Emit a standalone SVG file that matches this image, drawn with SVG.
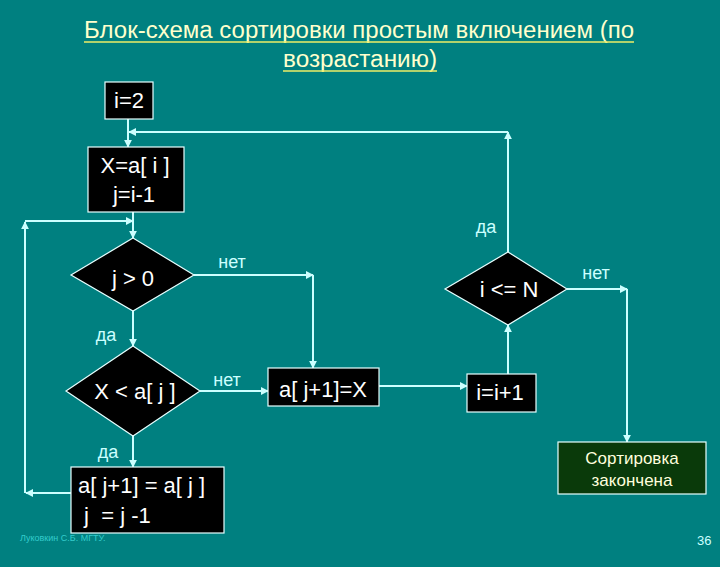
<svg xmlns="http://www.w3.org/2000/svg" width="720" height="567" viewBox="0 0 720 567">
<defs>
<marker id="ah" viewBox="0 0 10 10" refX="9" refY="5" markerWidth="8" markerHeight="8" markerUnits="userSpaceOnUse" orient="auto">
<path d="M0,0 L10,5 L0,10 z" fill="#CCFFFF"/>
</marker>
<style>
.bg{fill:#008080}
.box{fill:#000000;stroke:#E6FFFF;stroke-width:1.2}
.end{fill:#0A3A0A;stroke:#E6FFFF;stroke-width:1.2}
.t{font-family:"Liberation Sans",Arial,sans-serif;fill:#FFFFFF;font-size:22px}
.lbl{font-family:"Liberation Sans",Arial,sans-serif;fill:#CCFFFF;font-size:18px}
.title{font-family:"Liberation Sans",Arial,sans-serif;fill:#FFFFCC;font-size:23px;text-anchor:middle}
.c line,.c path{stroke:#CCFFFF;stroke-width:2;fill:none;marker-end:url(#ah)}
</style>
</defs>
<rect class="bg" x="0" y="0" width="720" height="567"/>
<g id="title">
<text class="title" x="359" y="38" textLength="550" lengthAdjust="spacingAndGlyphs">Блок-схема сортировки простым включением (по</text>
<line x1="84" y1="42" x2="634" y2="42" stroke="#EEEE66" stroke-width="1.5"/>
<text class="title" x="360" y="67" textLength="154" lengthAdjust="spacingAndGlyphs">возрастанию)</text>
<line x1="283" y1="71" x2="437" y2="71" stroke="#EEEE66" stroke-width="1.5"/>
</g>
<g class="c" id="connectors">
<line x1="128" y1="119" x2="128" y2="147"/>
<line x1="508" y1="132" x2="129" y2="132"/>
<line x1="508" y1="252" x2="508" y2="132"/>
<line x1="133" y1="212" x2="133" y2="238"/>
<line x1="25" y1="493" x2="25" y2="222"/>
<line x1="25" y1="221" x2="133" y2="221"/>
<line x1="71" y1="493" x2="26" y2="493"/>
<line x1="194" y1="275" x2="313" y2="275"/>
<line x1="313" y1="275" x2="313" y2="368"/>
<line x1="133" y1="311" x2="133" y2="346"/>
<line x1="200" y1="391" x2="268" y2="391"/>
<line x1="133" y1="436" x2="133" y2="467"/>
<line x1="379" y1="386" x2="467" y2="386"/>
<line x1="508" y1="374" x2="508" y2="325"/>
<line x1="567" y1="289" x2="627" y2="289"/>
<line x1="627" y1="289" x2="627" y2="442"/>
</g>
<g id="n_i2">
<rect class="box" x="105" y="82" width="48" height="37"/>
<text class="t" x="129" y="108" text-anchor="middle">i=2</text>
</g>
<g id="n_x">
<rect class="box" x="88" y="147" width="96" height="65"/>
<text class="t" x="135" y="173" text-anchor="middle">X=a[ i ]</text>
<text class="t" x="134" y="202" text-anchor="middle">j=i-1</text>
</g>
<g id="n_j0">
<polygon class="box" points="133,238 194,275 133,311 71,275"/>
<text class="t" x="133" y="286" text-anchor="middle">j &gt; 0</text>
</g>
<g id="n_xa">
<polygon class="box" points="133,346 200,391 133,436 66,391"/>
<text class="t" x="135" y="399" text-anchor="middle">X &lt; a[ j ]</text>
</g>
<g id="n_shift">
<rect class="box" x="71" y="467" width="153" height="66"/>
<text class="t" x="78" y="493">a[ j+1] = a[ j ]</text>
<text class="t" x="78" y="523" xml:space="preserve"> j  = j -1</text>
</g>
<g id="n_ins">
<rect class="box" x="268" y="368" width="111" height="38"/>
<text class="t" x="323" y="397" text-anchor="middle">a[ j+1]=X</text>
</g>
<g id="n_inc">
<rect class="box" x="467" y="374" width="69" height="38"/>
<text class="t" x="500" y="400" text-anchor="middle">i=i+1</text>
</g>
<g id="n_cmp">
<polygon class="box" points="508,252 567,289 508,325 445,289"/>
<text class="t" x="509" y="297" text-anchor="middle">i &lt;= N</text>
</g>
<g id="n_end">
<rect class="end" x="558" y="442" width="148" height="52"/>
<text class="lbl" x="632" y="464" text-anchor="middle" fill="#FFFFDD" style="fill:#FFFFDD;font-size:17px">Сортировка</text>
<text class="lbl" x="632" y="486" text-anchor="middle" style="fill:#FFFFDD;font-size:17px">закончена</text>
</g>
<g id="labels">
<text class="lbl" x="232" y="268" text-anchor="middle">нет</text>
<text class="lbl" x="106" y="341" text-anchor="middle">да</text>
<text class="lbl" x="227" y="386" text-anchor="middle">нет</text>
<text class="lbl" x="108" y="458" text-anchor="middle">да</text>
<text class="lbl" x="486" y="233" text-anchor="middle">да</text>
<text class="lbl" x="596" y="279" text-anchor="middle">нет</text>
</g>
<g id="footer">
<text x="20" y="541" style="font-family:'Liberation Sans',Arial,sans-serif;font-size:9px;fill:#33CCCC">Луковкин С.Б. МГТУ.</text>
<text x="697" y="545" style="font-family:'Liberation Sans',Arial,sans-serif;font-size:13px;fill:#CCFFFF">36</text>
</g>
</svg>
